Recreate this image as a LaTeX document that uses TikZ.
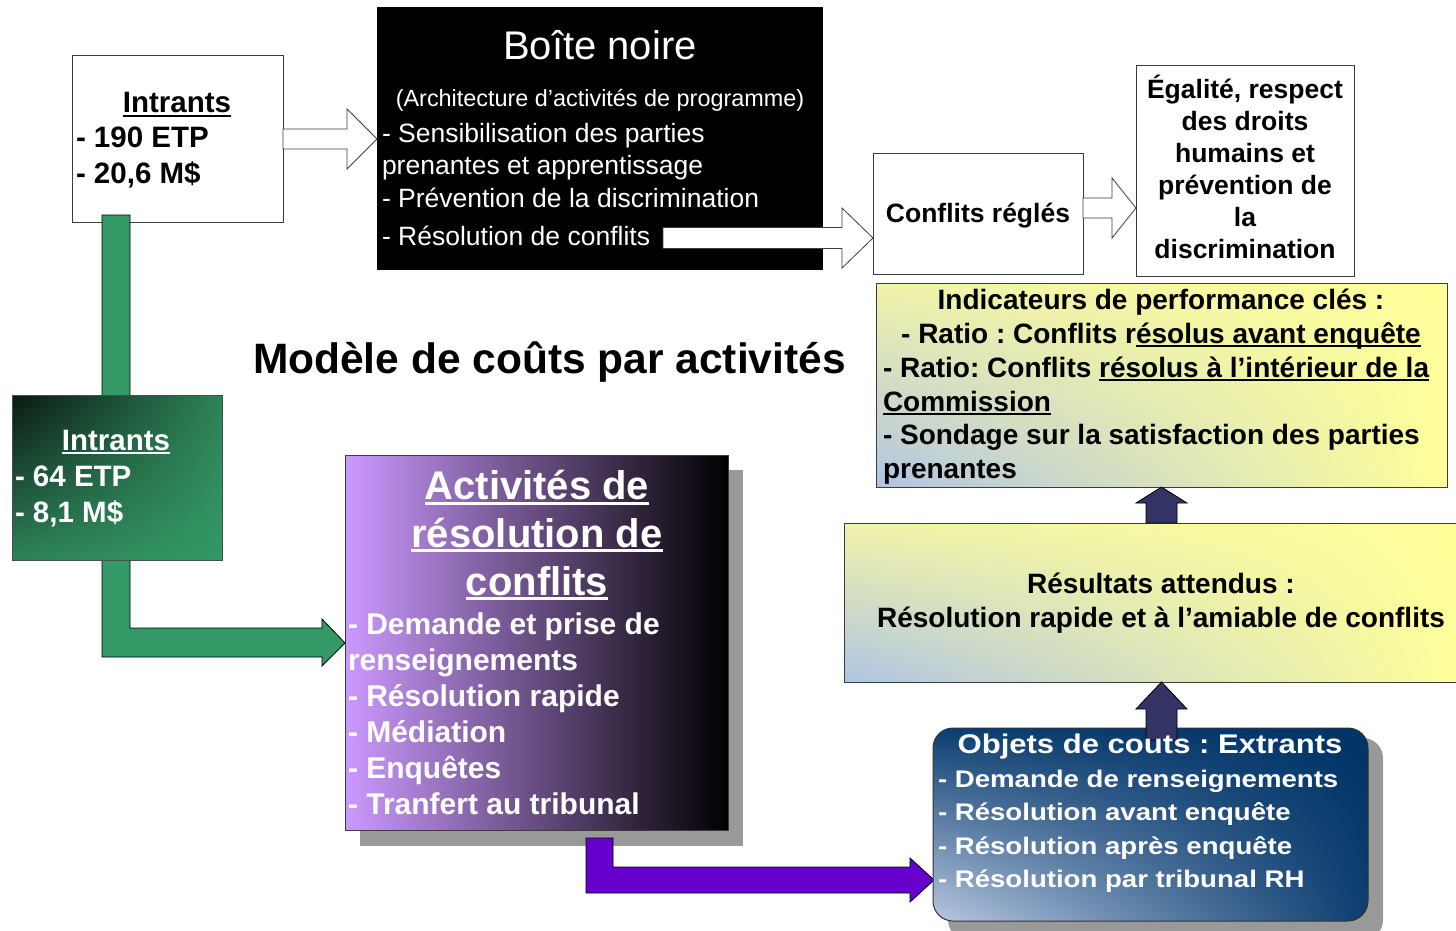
\documentclass[tikz,border=0pt]{standalone}
\usepackage{fontspec}
\setmainfont{Liberation Sans}
\newfontfamily\objfont{Liberation Sans}[FakeStretch=1.15]
\usetikzlibrary{calc,shadings}
\frenchspacing
\definecolor{grn}{RGB}{51,153,102}
\definecolor{pur}{RGB}{102,0,204}
\definecolor{navy}{RGB}{51,51,102}
\definecolor{bord}{RGB}{60,60,60}
\definecolor{ylw}{RGB}{255,255,153}
\definecolor{ylw2}{RGB}{240,243,170}
\definecolor{blu}{RGB}{176,196,228}
\definecolor{violL}{RGB}{204,153,255}
\definecolor{dnavy}{RGB}{0,51,102}
\definecolor{dnavy2}{RGB}{12,62,112}
\definecolor{lnavy}{RGB}{184,200,226}
\definecolor{shad}{RGB}{153,153,153}
\definecolor{gdark}{RGB}{10,25,18}
\definecolor{gmid}{RGB}{46,130,88}
\newcommand\ulx[1]{\setbox0=\hbox{#1}\leavevmode\rlap{\rule[-0.13em]{\wd0}{0.075em}}\box0}
\newcommand\fs[2]{\fontsize{#1}{#2}\selectfont}
% horizontal block arrow: style, from, tip, shaft half width, head half width, head length
\newcommand\hblock[6]{\path[#1] let \p1=(#2), \p2=(#3) in (\x1,\y2+#4) -- (\x2-#6,\y2+#4) -- (\x2-#6,\y2+#5) -- (\p2) -- (\x2-#6,\y2-#5) -- (\x2-#6,\y2-#4) -- (\x1,\y2-#4) -- cycle;}
% vertical (upward) block arrow: style, from (bottom), tip, shaft half width, head half width, head length
\newcommand\vblock[6]{\path[#1] let \p1=(#2), \p2=(#3) in (\x2-#4,\y1) -- (\x2-#4,\y2-#6) -- (\x2-#5,\y2-#6) -- (\p2) -- (\x2+#5,\y2-#6) -- (\x2+#4,\y2-#6) -- (\x2+#4,\y1) -- cycle;}
\begin{document}
\begin{tikzpicture}[x=1pt,y=-1pt,
  box/.style={draw=bord, line width=1pt, inner sep=0pt, outer sep=0pt, anchor=north west},
  tx/.style={inner sep=0pt, outer sep=0pt},
  warrow/.style={fill=white, draw=bord, line width=0.8pt},
  garrow/.style={fill=grn, draw=black, line width=0.8pt},
  parrow/.style={fill=pur, draw=black, line width=0.8pt},
  narrow/.style={fill=navy, draw=black, line width=0.8pt},
  bw/.style={tx, font=\fs{29.5}{36}\bfseries},
  bk/.style={tx, font=\fs{26.5}{32}\bfseries},
  kp/.style={tx, font=\fs{28}{34}\bfseries},
  nb/.style={tx, text=white, font=\fs{26.5}{32}},
  pv/.style={tx, text=white, font=\fs{30}{36}\bfseries},
  ob/.style={tx, text=white, font=\objfont\fs{24}{33}\bfseries}]
\useasboundingbox (0,0) rectangle (1456,931);
\fill[white] (0,0) rectangle (1456,931);

% ---- top row boxes
\node[box, fill=white, minimum width=211pt, minimum height=166pt] (in1) at (72,56) {};
\node[box, draw=none, fill=black, minimum width=446pt, minimum height=263pt] (bn) at (377,7) {};
\node[box, fill=white, minimum width=210pt, minimum height=121pt] (cr) at (873,153) {};
\node[box, fill=white, minimum width=218pt, minimum height=210pt] (eg) at (1136,66) {};

% ---- white arrows
\hblock{warrow}{in1.east}{bn.west |- in1.east}{10pt}{30pt}{30pt}
\coordinate (bs) at (663,238);
\hblock{warrow}{bs}{cr.west |- bs}{10.5pt}{30pt}{31pt}
\coordinate (cs) at (1083,208);
\hblock{warrow}{cs}{eg.west |- cs}{10pt}{30pt}{24pt}

% ---- yellow boxes
\node[box, upper left=ylw2, upper right=ylw, lower left=blu, lower right=ylw, minimum width=571pt, minimum height=204pt] (kpi) at (876,283) {};
\node[box, upper left=ylw2, upper right=ylw, lower left=blu, lower right=ylw, minimum width=616pt, minimum height=159pt] (res) at (844,523) {};

% ---- green L arrow
\coordinate (gs) at (116,215);
\coordinate (gt) at (345,643);
\path[garrow] (102,215) -- (130,215) -- (130,628) -- (322,628) -- (322,619) -- (gt) -- (322,666) -- (322,657) -- (102,657) -- cycle;
\node[box, draw=black!70, upper left=gdark, upper right=gmid, lower left=gmid, lower right=grn, minimum width=210pt, minimum height=165pt] (in2) at (12,395) {};

% ---- activities box
\fill[shad] (360,470) rectangle (743,846);
\node[box, left color=violL, right color=black, minimum width=383pt, minimum height=375pt] (act) at (345,455) {};

% ---- purple L arrow
\coordinate (ps) at (600,838);
\coordinate (pt) at (934,880);
\path[parrow] (586,838) -- (613,838) -- (613,867) -- (910,867) -- (910,858) -- (pt) -- (910,902) -- (910,893) -- (586,893) -- cycle;

% ---- objects box
\fill[shad, rounded corners=20pt] (948,738) rectangle (1383,940);
\node[box, draw=black!80, rounded corners=20pt, upper left=dnavy2, upper right=dnavy, lower left=lnavy, lower right=dnavy2, minimum width=435pt, minimum height=193pt] (obj) at (933,728) {};

% ---- navy arrows
\vblock{narrow}{res.north -| kpi.south}{kpi.south}{15.5pt}{25.5pt}{16pt}
\coordinate (nb2) at (1161.5,740);
\vblock{narrow}{nb2}{res.south -| kpi.south}{15.5pt}{25.5pt}{27pt}

% ---- texts
\node[tx, anchor=base west, font=\fs{42.5}{50}\bfseries] (title) at (253,373) {Modèle de coûts par activités};

\node[bw, anchor=base] (i1h) at (177,113) {\ulx{Intrants}};
\node[bw, anchor=base west] (i1a) at (76,148) {- 190 ETP};
\node[bw, anchor=base west] (i1b) at (76,183.5) {- 20,6 M\$};

\node[tx, text=white, anchor=base, font=\fs{40}{48}] (bnh) at (600,60) {Boîte noire};
\node[tx, text=white, anchor=base, font=\fs{23.4}{28}] (bns) at (600,107) {(Architecture d’activités de programme)};
\node[nb, anchor=base west] (bn1) at (382,142.5) {- Sensibilisation des parties};
\node[nb, anchor=base west] (bn2) at (382,174.5) {prenantes et apprentissage};
\node[nb, anchor=base west] (bn3) at (382,207) {- Prévention de la discrimination};
\node[nb, anchor=base west] (bn4) at (382,245) {- Résolution de conflits};

\node[bk, anchor=base] (crt) at (978,222.5) {Conflits réglés};

\node[bk, anchor=base] (eg1) at (1245,98.5) {Égalité, respect};
\node[bk, anchor=base] (eg2) at (1245,130.5) {des droits};
\node[bk, anchor=base] (eg3) at (1245,162.5) {humains et};
\node[bk, anchor=base] (eg4) at (1245,194.5) {prévention de};
\node[bk, anchor=base] (eg5) at (1245,226.5) {la};
\node[bk, anchor=base] (eg6) at (1245,258.5) {discrimination};

\node[kp, anchor=base] (k1) at (1161,309.5) {Indicateurs de performance clés :};
\node[kp, anchor=base] (k2) at (1161,343) {- Ratio : Conflits r\ulx{ésolus avant enquête}};
\node[kp, anchor=base west] (k3) at (883,377) {- Ratio: Conflits \ulx{résolus à l’intérieur de la}};
\node[kp, anchor=base west] (k4) at (883,411) {\ulx{Commission}};
\node[kp, anchor=base west] (k5) at (883,444.5) {- Sondage sur la satisfaction des parties};
\node[kp, anchor=base west] (k6) at (883,478) {prenantes};

\node[kp, anchor=base] (r1) at (1161,593.5) {Résultats attendus :};
\node[kp, anchor=base] (r2) at (1161,627.5) {Résolution rapide et à l’amiable de conflits};

\node[bw, text=white, anchor=base] (i2h) at (116,450) {\ulx{Intrants}};
\node[bw, text=white, anchor=base west] (i2a) at (15,486) {- 64 ETP};
\node[bw, text=white, anchor=base west] (i2b) at (15,522) {- 8,1 M\$};

\node[tx, text=white, anchor=base, font=\fs{40}{48}\bfseries] (a1) at (537,499.5) {\ulx{Activités de}};
\node[tx, text=white, anchor=base, font=\fs{40}{48}\bfseries] (a2) at (537,547) {\ulx{résolution de}};
\node[tx, text=white, anchor=base, font=\fs{40}{48}\bfseries] (a3) at (537,595) {\ulx{conflits}};
\node[pv, anchor=base west] (al1) at (348,634) {- Demande et prise de};
\node[pv, anchor=base west] (al2) at (348,670) {renseignements};
\node[pv, anchor=base west] (al3) at (348,706) {- Résolution rapide};
\node[pv, anchor=base west] (al4) at (348,742) {- Médiation};
\node[pv, anchor=base west] (al5) at (348,778) {- Enquêtes};
\node[pv, anchor=base west] (al6) at (348,814) {- Tranfert au tribunal};

\node[tx, text=white, anchor=base, font=\objfont\fs{27}{33}\bfseries] (o0) at (1150,753) {Objets de couts : Extrants};
\node[ob, anchor=base west] (o1) at (938,787) {- Demande de renseignements};
\node[ob, anchor=base west] (o2) at (938,820) {- Résolution avant enquête};
\node[ob, anchor=base west] (o3) at (938,854) {- Résolution après enquête};
\node[ob, anchor=base west] (o4) at (938,887) {- Résolution par tribunal RH};
\end{tikzpicture}
\end{document}
